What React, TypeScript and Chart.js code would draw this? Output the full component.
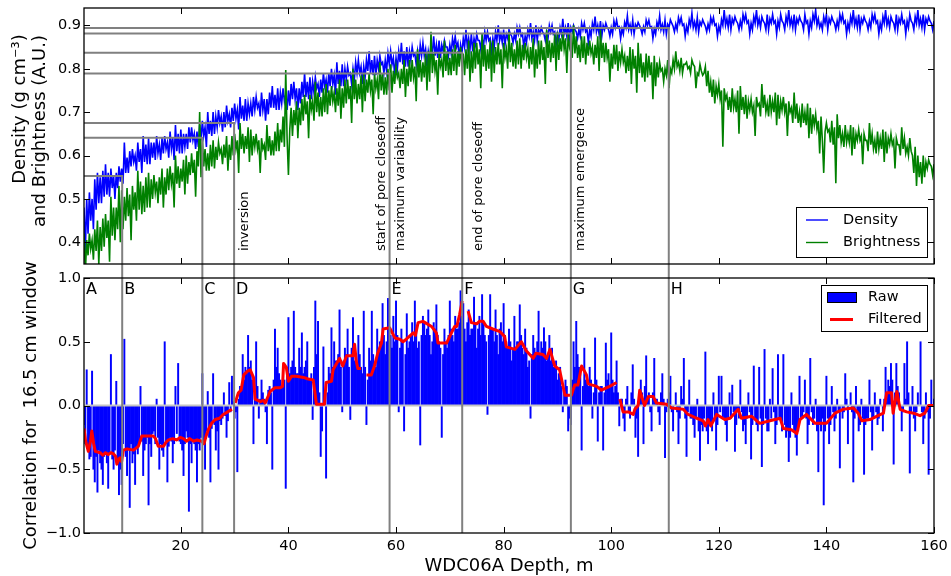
import React, { useEffect, useRef } from 'react';
import { Chart, registerables } from 'chart.js';

Chart.register(...registerables);

// ---------------- data ----------------
const DEPTH_START = 2;
const DEPTH_STEP = 0.25;
const X_MIN = 2;
const X_MAX = 160;
const X_TICKS = [20, 40, 60, 80, 100, 120, 140, 160];
const TOP_Y_TICKS = [0.4, 0.5, 0.6, 0.7, 0.8, 0.9];
const BOT_Y_TICKS = [-1, -0.5, 0, 0.5, 1];

// density, g cm^-3, every 0.25 m from 2 m
const DENSITY = [
  0.48, 0.38, 0.50, 0.42, 0.515, 0.45, 0.50, 0.43, 0.545, 0.475, 0.56, 0.49, 0.55, 0.49, 0.565, 0.505, 0.58, 0.51, 0.56, 0.505,
  0.57, 0.525, 0.555, 0.50, 0.56, 0.525, 0.575, 0.54, 0.57, 0.535, 0.63, 0.56, 0.595, 0.56, 0.61, 0.575, 0.615, 0.585, 0.60, 0.565,
  0.63, 0.585, 0.615, 0.56, 0.645, 0.585, 0.625, 0.58, 0.64, 0.58, 0.63, 0.595, 0.63, 0.59, 0.645, 0.605, 0.625, 0.59, 0.64, 0.605,
  0.645, 0.615, 0.63, 0.595, 0.655, 0.615, 0.64, 0.59, 0.67, 0.61, 0.65, 0.605, 0.66, 0.605, 0.65, 0.62, 0.65, 0.615, 0.665, 0.63,
  0.665, 0.635, 0.65, 0.615, 0.655, 0.62, 0.67, 0.635, 0.68, 0.645, 0.665, 0.62, 0.70, 0.65, 0.68, 0.645, 0.70, 0.65, 0.69, 0.665,
  0.705, 0.675, 0.69, 0.655, 0.70, 0.665, 0.715, 0.68, 0.695, 0.665, 0.71, 0.68, 0.72, 0.685, 0.705, 0.66, 0.735, 0.685, 0.715, 0.68,
  0.73, 0.68, 0.72, 0.695, 0.72, 0.69, 0.735, 0.705, 0.735, 0.71, 0.72, 0.69, 0.745, 0.705, 0.73, 0.68, 0.73, 0.695, 0.745, 0.71,
  0.76, 0.71, 0.74, 0.705, 0.755, 0.705, 0.745, 0.72, 0.755, 0.725, 0.74, 0.705, 0.75, 0.715, 0.765, 0.73, 0.77, 0.73, 0.755, 0.705,
  0.755, 0.72, 0.77, 0.735, 0.79, 0.735, 0.77, 0.73, 0.78, 0.73, 0.77, 0.745, 0.78, 0.755, 0.765, 0.735, 0.775, 0.745, 0.79, 0.76,
  0.775, 0.745, 0.79, 0.76, 0.80, 0.765, 0.785, 0.74, 0.815, 0.765, 0.795, 0.76, 0.81, 0.76, 0.80, 0.775, 0.805, 0.785, 0.79, 0.765,
  0.80, 0.775, 0.815, 0.79, 0.82, 0.79, 0.805, 0.765, 0.805, 0.78, 0.82, 0.795, 0.84, 0.79, 0.82, 0.785, 0.83, 0.785, 0.82, 0.80,
  0.83, 0.81, 0.815, 0.79, 0.82, 0.795, 0.835, 0.81, 0.84, 0.81, 0.825, 0.785, 0.825, 0.80, 0.84, 0.815, 0.86, 0.81, 0.84, 0.805,
  0.85, 0.805, 0.84, 0.82, 0.85, 0.83, 0.835, 0.81, 0.84, 0.815, 0.855, 0.83, 0.86, 0.83, 0.845, 0.805, 0.84, 0.82, 0.855, 0.835,
  0.875, 0.83, 0.855, 0.825, 0.865, 0.825, 0.855, 0.84, 0.865, 0.85, 0.85, 0.83, 0.855, 0.835, 0.87, 0.85, 0.875, 0.85, 0.86, 0.825,
  0.855, 0.835, 0.87, 0.85, 0.89, 0.85, 0.87, 0.845, 0.88, 0.84, 0.87, 0.855, 0.88, 0.865, 0.865, 0.845, 0.87, 0.85, 0.885, 0.865,
  0.885, 0.865, 0.87, 0.84, 0.87, 0.85, 0.885, 0.865, 0.90, 0.865, 0.88, 0.86, 0.89, 0.855, 0.88, 0.87, 0.89, 0.88, 0.875, 0.86,
  0.88, 0.865, 0.895, 0.88, 0.895, 0.875, 0.88, 0.85, 0.875, 0.86, 0.89, 0.875, 0.905, 0.87, 0.885, 0.865, 0.90, 0.865, 0.89, 0.88,
  0.895, 0.885, 0.88, 0.865, 0.885, 0.87, 0.90, 0.885, 0.90, 0.88, 0.885, 0.855, 0.88, 0.865, 0.895, 0.88, 0.915, 0.88, 0.895, 0.875,
  0.905, 0.87, 0.895, 0.885, 0.90, 0.89, 0.885, 0.87, 0.89, 0.875, 0.905, 0.89, 0.905, 0.885, 0.89, 0.86, 0.89, 0.875, 0.905, 0.89,
  0.92, 0.885, 0.90, 0.88, 0.91, 0.875, 0.90, 0.89, 0.905, 0.895, 0.89, 0.875, 0.895, 0.88, 0.91, 0.895, 0.912, 0.895, 0.897, 0.87,
  0.892, 0.88, 0.907, 0.895, 0.922, 0.89, 0.902, 0.885, 0.912, 0.88, 0.902, 0.895, 0.907, 0.90, 0.892, 0.88, 0.897, 0.885, 0.912, 0.90,
  0.912, 0.895, 0.897, 0.87, 0.892, 0.88, 0.907, 0.895, 0.922, 0.89, 0.902, 0.885, 0.912, 0.88, 0.902, 0.895, 0.913, 0.905, 0.898, 0.885,
  0.903, 0.89, 0.918, 0.905, 0.918, 0.90, 0.903, 0.875, 0.898, 0.885, 0.913, 0.90, 0.928, 0.895, 0.908, 0.89, 0.918, 0.885, 0.908, 0.90,
  0.913, 0.905, 0.898, 0.885, 0.903, 0.89, 0.918, 0.905, 0.918, 0.90, 0.903, 0.875, 0.898, 0.885, 0.913, 0.90, 0.935, 0.90, 0.915, 0.895,
  0.925, 0.89, 0.915, 0.905, 0.92, 0.91, 0.905, 0.89, 0.91, 0.895, 0.925, 0.91, 0.925, 0.905, 0.91, 0.88, 0.905, 0.89, 0.92, 0.905,
  0.935, 0.90, 0.915, 0.895, 0.92, 0.91, 0.905, 0.89, 0.925, 0.89, 0.915, 0.905, 0.925, 0.905, 0.91, 0.88, 0.91, 0.895, 0.925, 0.91,
  0.905, 0.89, 0.92, 0.905, 0.935, 0.90, 0.915, 0.895, 0.925, 0.89, 0.915, 0.905, 0.92, 0.91, 0.905, 0.89, 0.925, 0.905, 0.91, 0.88,
  0.91, 0.895, 0.925, 0.91, 0.935, 0.90, 0.915, 0.895, 0.905, 0.89, 0.92, 0.905, 0.925, 0.89, 0.915, 0.905, 0.92, 0.91, 0.905, 0.89,
  0.91, 0.895, 0.925, 0.91, 0.925, 0.905, 0.91, 0.88, 0.905, 0.89, 0.92, 0.905, 0.935, 0.90, 0.915, 0.895, 0.925, 0.89, 0.915, 0.905,
  0.92, 0.91, 0.905, 0.89, 0.91, 0.895, 0.925, 0.91, 0.925, 0.905, 0.91, 0.88, 0.905, 0.89, 0.92, 0.905, 0.935, 0.90, 0.915, 0.895,
  0.92, 0.91, 0.905, 0.89, 0.925, 0.89, 0.915, 0.905, 0.925, 0.905, 0.91, 0.88, 0.91, 0.895, 0.925, 0.91, 0.905, 0.89, 0.92, 0.905,
  0.935, 0.90, 0.915, 0.895, 0.925, 0.89, 0.915, 0.905, 0.92, 0.91, 0.905, 0.89, 0.91,
];

// brightness, arbitrary units, every 0.25 m from 2 m
const BRIGHTNESS = [
  0.42, 0.33, 0.405, 0.37, 0.42, 0.385, 0.405, 0.36, 0.43, 0.38, 0.45, 0.35, 0.435, 0.38, 0.455, 0.39, 0.465, 0.41, 0.45, 0.355,
  0.505, 0.415, 0.48, 0.405, 0.48, 0.43, 0.53, 0.40, 0.52, 0.43, 0.505, 0.45, 0.525, 0.46, 0.51, 0.405, 0.53, 0.475, 0.515, 0.45,
  0.565, 0.475, 0.54, 0.465, 0.53, 0.47, 0.55, 0.48, 0.56, 0.48, 0.545, 0.50, 0.555, 0.515, 0.54, 0.49, 0.55, 0.51, 0.57, 0.48,
  0.55, 0.51, 0.57, 0.52, 0.575, 0.535, 0.56, 0.48, 0.60, 0.535, 0.575, 0.525, 0.57, 0.54, 0.59, 0.51, 0.60, 0.535, 0.585, 0.555,
  0.605, 0.56, 0.59, 0.505, 0.61, 0.575, 0.70, 0.55, 0.64, 0.575, 0.615, 0.565, 0.605, 0.565, 0.625, 0.575, 0.635, 0.57, 0.62, 0.59,
  0.63, 0.605, 0.615, 0.58, 0.625, 0.595, 0.645, 0.565, 0.625, 0.59, 0.645, 0.60, 0.65, 0.615, 0.635, 0.56, 0.675, 0.615, 0.65, 0.605,
  0.645, 0.615, 0.665, 0.585, 0.66, 0.60, 0.645, 0.62, 0.65, 0.615, 0.635, 0.56, 0.64, 0.615, 0.625, 0.59, 0.67, 0.61, 0.645, 0.60,
  0.635, 0.60, 0.655, 0.61, 0.675, 0.61, 0.66, 0.63, 0.69, 0.62, 0.797, 0.64, 0.555, 0.66, 0.71, 0.645, 0.705, 0.67, 0.725, 0.64,
  0.71, 0.67, 0.73, 0.68, 0.74, 0.695, 0.725, 0.64, 0.74, 0.705, 0.725, 0.68, 0.77, 0.70, 0.745, 0.69, 0.735, 0.69, 0.755, 0.70,
  0.765, 0.695, 0.75, 0.715, 0.76, 0.725, 0.745, 0.70, 0.755, 0.715, 0.775, 0.685, 0.755, 0.71, 0.775, 0.72, 0.775, 0.73, 0.76, 0.675,
  0.80, 0.73, 0.775, 0.72, 0.765, 0.73, 0.785, 0.70, 0.79, 0.725, 0.775, 0.745, 0.79, 0.75, 0.775, 0.695, 0.79, 0.755, 0.775, 0.73,
  0.815, 0.75, 0.79, 0.74, 0.78, 0.74, 0.80, 0.75, 0.81, 0.745, 0.795, 0.765, 0.805, 0.78, 0.79, 0.755, 0.80, 0.765, 0.82, 0.735,
  0.80, 0.76, 0.82, 0.77, 0.82, 0.78, 0.805, 0.725, 0.845, 0.78, 0.82, 0.77, 0.815, 0.78, 0.835, 0.75, 0.84, 0.77, 0.885, 0.79,
  0.835, 0.795, 0.82, 0.74, 0.835, 0.805, 0.82, 0.78, 0.865, 0.795, 0.84, 0.785, 0.825, 0.785, 0.845, 0.795, 0.855, 0.785, 0.84, 0.805,
  0.85, 0.81, 0.835, 0.785, 0.845, 0.80, 0.865, 0.77, 0.84, 0.79, 0.86, 0.80, 0.86, 0.81, 0.845, 0.755, 0.88, 0.805, 0.855, 0.795,
  0.845, 0.80, 0.865, 0.77, 0.865, 0.79, 0.85, 0.81, 0.86, 0.81, 0.845, 0.755, 0.86, 0.825, 0.845, 0.80, 0.885, 0.815, 0.86, 0.805,
  0.845, 0.80, 0.865, 0.81, 0.87, 0.80, 0.855, 0.82, 0.86, 0.825, 0.845, 0.80, 0.85, 0.81, 0.87, 0.78, 0.845, 0.80, 0.865, 0.81,
  0.865, 0.82, 0.85, 0.765, 0.89, 0.825, 0.865, 0.815, 0.86, 0.825, 0.88, 0.795, 0.885, 0.82, 0.87, 0.84, 0.885, 0.845, 0.87, 0.79,
  0.88, 0.85, 0.865, 0.825, 0.90, 0.835, 0.875, 0.825, 0.855, 0.815, 0.875, 0.825, 0.875, 0.81, 0.86, 0.83, 0.865, 0.835, 0.85, 0.81,
  0.855, 0.825, 0.875, 0.795, 0.89, 0.825, 0.86, 0.815, 0.86, 0.825, 0.845, 0.77, 0.835, 0.80, 0.855, 0.81, 0.855, 0.795, 0.84, 0.815,
  0.845, 0.815, 0.83, 0.79, 0.83, 0.795, 0.85, 0.765, 0.845, 0.80, 0.83, 0.745, 0.86, 0.79, 0.835, 0.78, 0.815, 0.77, 0.835, 0.78,
  0.83, 0.785, 0.815, 0.73, 0.83, 0.76, 0.815, 0.78, 0.815, 0.795, 0.80, 0.77, 0.80, 0.785, 0.82, 0.755, 0.80, 0.79, 0.82, 0.80,
  0.84, 0.805, 0.815, 0.795, 0.825, 0.79, 0.81, 0.81, 0.815, 0.80, 0.805, 0.79, 0.82, 0.81, 0.805, 0.755, 0.79, 0.785, 0.81, 0.795,
  0.785, 0.79, 0.805, 0.76, 0.795, 0.745, 0.77, 0.735, 0.775, 0.72, 0.76, 0.74, 0.765, 0.73, 0.75, 0.62, 0.755, 0.73, 0.74, 0.705,
  0.735, 0.70, 0.755, 0.71, 0.73, 0.70, 0.75, 0.65, 0.76, 0.705, 0.735, 0.695, 0.74, 0.685, 0.725, 0.705, 0.73, 0.70, 0.715, 0.645,
  0.735, 0.715, 0.72, 0.69, 0.765, 0.71, 0.74, 0.70, 0.72, 0.69, 0.74, 0.70, 0.725, 0.70, 0.745, 0.67, 0.74, 0.685, 0.725, 0.705,
  0.735, 0.70, 0.72, 0.645, 0.725, 0.70, 0.71, 0.675, 0.745, 0.685, 0.72, 0.675, 0.70, 0.665, 0.72, 0.675, 0.70, 0.67, 0.72, 0.64,
  0.71, 0.65, 0.695, 0.67, 0.695, 0.66, 0.68, 0.605, 0.69, 0.635, 0.56, 0.655, 0.675, 0.655, 0.66, 0.63, 0.68, 0.625, 0.665, 0.536,
  0.695, 0.64, 0.67, 0.63, 0.65, 0.62, 0.67, 0.63, 0.65, 0.63, 0.67, 0.60, 0.665, 0.615, 0.65, 0.635, 0.66, 0.635, 0.645, 0.58,
  0.65, 0.635, 0.635, 0.61, 0.675, 0.625, 0.65, 0.615, 0.635, 0.605, 0.655, 0.615, 0.64, 0.615, 0.66, 0.585, 0.655, 0.605, 0.64, 0.625,
  0.65, 0.625, 0.635, 0.57, 0.64, 0.625, 0.625, 0.60, 0.665, 0.615, 0.64, 0.605, 0.62, 0.60, 0.64, 0.61, 0.60, 0.56, 0.62, 0.53,
  0.60, 0.55, 0.585, 0.535, 0.60, 0.55, 0.585, 0.57, 0.59, 0.58, 0.575, 0.555, 0.58,
];

// raw correlation, every 0.25 m from 2 m
const RAW = [
  -0.15, -0.3, 0.28, -0.35, -0.42, -0.4, 0.27, -0.5, -0.6, -0.4, -0.68, -0.35, -0.45, -0.5, -0.62, -0.4, -0.38, -0.45, -0.65, -0.38,
  0.4, -0.42, -0.5, -0.35, 0.19, -0.45, -0.7, -0.5, -0.62, -0.3, 0.52, -0.4, -0.55, -0.35, -0.8, -0.3, -0.45, -0.38, -0.62, -0.32,
  -0.38, -0.3, 0.15, -0.28, -0.55, -0.35, -0.3, -0.25, -0.78, -0.3, -0.4, -0.22, -0.2, -0.3, 0.05, -0.25, -0.5, -0.3, -0.35, -0.4,
  0.5, -0.3, -0.6, -0.32, -0.25, -0.28, -0.45, -0.3, 0.15, -0.22, 0.33, -0.28, -0.3, -0.35, -0.55, -0.3, -0.2, -0.25, -0.83, -0.3,
  -0.45, -0.28, -0.3, -0.35, -0.6, -0.3, -0.35, -0.25, 0.25, -0.3, -0.5, -0.2, 0.11, -0.25, -0.6, -0.18, 0.25, -0.15, -0.35, -0.2,
  -0.5, -0.12, -0.15, -0.1, 0.1, -0.08, -0.25, -0.12, 0.18, -0.05, 0.23, 0.03, -0.1, -0.05, -0.52, 0.05, 0.15, 0.15, 0.4, 0.2,
  0.3, 0.25, 0.55, 0.3, 0.35, 0.2, -0.3, 0.1, 0.5, 0.15, -0.1, 0.05, 0.2, 0.1, 0.05, -0.05, -0.3, 0.12, 0.15, 0.1,
  -0.5, 0.2, 0.6, 0.3, 0.45, 0.25, 0.2, 0.15, 0.3, 0.2, -0.65, 0.3, 0.69, 0.25, 0.3, 0.35, 0.74, 0.3, 0.25, 0.25,
  0.45, 0.3, 0.57, 0.25, 0.3, 0.35, 0.5, 0.2, 0.2, 0.25, -0.11, 0.3, 0.82, 0.4, 0.66, 0.1, -0.4, -0.2, 0.46, 0.05,
  -0.57, 0.1, 0.3, 0.25, 0.61, 0.3, 0.5, 0.35, 0.35, 0.4, 0.75, 0.3, -0.05, 0.35, 0.45, 0.4, 0.6, 0.3, -0.11, 0.45,
  0.69, 0.35, 0.4, 0.3, 0.55, 0.4, 0.3, 0.25, 0.74, 0.3, -0.15, 0.2, 0.45, 0.35, 0.74, 0.4, 0.3, 0.3, 0.6, 0.45,
  0.5, 0.5, 0.8, 0.55, 0.4, 0.5, 0.84, 0.6, 0.55, 0.45, 0.7, 0.5, 0.82, 0.55, -0.05, 0.45, 0.6, 0.5, -0.2, 0.4,
  0.72, 0.45, 0.5, 0.55, 0.65, 0.5, 0.82, 0.6, 0.45, 0.5, -0.31, 0.55, 0.7, 0.65, 0.55, 0.6, 0.75, 0.55, 0.4, 0.5,
  0.65, 0.6, 0.79, 0.55, 0.5, 0.45, -0.25, 0.4, 0.6, 0.5, 0.45, 0.55, 0.82, 0.6, 0.55, 0.5, 0.7, 0.6, 0.6, 0.65,
  0.9, 0.7, 0.8, 0.6, 0.5, 0.65, 0.75, 0.55, 0.6, 0.6, 0.85, 0.65, 0.45, 0.6, 0.7, 0.55, 0.87, 0.65, 0.55, 0.5,
  -0.07, 0.55, 0.87, 0.6, 0.6, 0.5, 0.75, 0.55, 0.4, 0.6, 0.65, 0.5, 0.8, 0.55, 0.5, 0.45, 0.6, 0.5, 0.35, 0.45,
  0.7, 0.45, 0.5, 0.5, 0.79, 0.55, 0.45, 0.4, 0.6, 0.45, 0.3, 0.35, -0.1, 0.4, 0.55, 0.45, 0.4, 0.5, 0.74, 0.4,
  0.5, 0.45, 0.61, 0.5, 0.35, 0.4, 0.55, 0.35, 0.45, 0.3, 0.3, 0.35, 0.2, 0.25, 0.3, 0.15, -0.05, 0.1, 0.2, 0.15,
  -0.2, -0.1, -0.15, 0.2, 0.5, 0.3, 0.66, 0.4, 0.3, 0.25, -0.35, 0.15, 0.45, 0.2, 0.2, 0.15, 0.3, 0.2, -0.1, 0.1,
  0.53, 0.2, -0.28, 0.1, 0.15, 0.15, -0.35, 0.1, 0.49, 0.2, 0.25, 0.15, 0.57, 0.2, 0.1, 0.15, 0.35, 0.1, -0.16, 0.05,
  0.05, -0.1, -0.2, 0.05, 0.15, -0.05, -0.1, 0.1, 0.32, 0.05, -0.25, -0.1, -0.4, 0.05, 0.2, 0.1, -0.3, 0.15, 0.39, 0.05,
  0.1, -0.05, -0.2, 0.1, 0.37, 0.05, 0.05, -0.05, -0.15, 0.1, 0.25, 0.05, -0.41, -0.05, 0.05, 0.1, 0.23, -0.05, -0.2, 0.0,
  0.1, -0.05, -0.3, -0.1, 0.15, 0.05, 0.37, -0.1, -0.4, -0.05, 0.2, -0.1, -0.1, -0.15, -0.25, -0.1, 0.05, -0.2, -0.43, -0.15,
  -0.2, -0.1, 0.42, -0.2, -0.3, -0.15, -0.15, -0.2, 0.1, -0.1, -0.35, -0.15, 0.23, -0.05, 0.23, -0.1, -0.1, -0.15, -0.28, -0.1,
  0.1, -0.1, 0.16, -0.05, -0.36, -0.15, -0.05, -0.1, 0.2, -0.05, -0.2, -0.15, -0.3, -0.1, 0.1, -0.05, -0.42, -0.15, 0.31, -0.1,
  -0.15, -0.2, 0.3, -0.1, -0.48, -0.15, 0.44, -0.1, -0.2, -0.2, 0.05, -0.1, 0.29, -0.05, -0.3, -0.15, 0.4, -0.1, -0.1, -0.2,
  0.4, -0.15, -0.25, -0.2, -0.44, -0.25, 0.1, -0.15, -0.2, -0.25, -0.39, -0.2, 0.23, -0.1, -0.1, -0.05, 0.2, -0.1, -0.3, -0.15,
  0.37, -0.05, -0.15, -0.1, 0.05, -0.2, -0.52, -0.15, -0.2, -0.1, -0.78, -0.2, 0.23, -0.1, -0.3, -0.15, 0.15, -0.05, -0.2, -0.1,
  0.05, -0.05, -0.49, 0.0, -0.1, -0.05, 0.25, 0.05, -0.3, 0.0, 0.1, -0.05, -0.6, -0.1, 0.15, -0.05, -0.2, -0.15, 0.05, -0.1,
  -0.54, -0.15, -0.1, -0.1, 0.2, -0.05, -0.35, -0.1, 0.1, -0.05, -0.15, -0.1, 0.05, 0.0, -0.2, 0.05, 0.3, 0.1, 0.2, 0.15,
  0.33, 0.2, -0.46, 0.1, 0.33, 0.15, 0.1, 0.0, -0.2, -0.05, 0.33, 0.05, 0.5, 0.1, -0.53, -0.05, 0.15, -0.1, -0.2, -0.05,
  0.1, 0.0, 0.5, -0.05, -0.3, -0.1, 0.1, -0.05, -0.54, -0.1, 0.2, 0.0, 0.05,
];

const FILTER_DEPTH = [
  2.0, 2.3, 2.8, 3.2, 3.45, 3.8, 4.1, 5.0, 5.5, 6.0,
  6.5, 7.0, 7.5, 7.9, 8.1, 8.5, 8.7, 9.0, 9.3, 10.0,
  11.2, 11.8, 12.1, 12.75, 14.9, 15.3, 15.8, 16.8, 17.2, 17.7,
  18.5, 19.2, 19.9, 20.5, 21.1, 21.6, 22.4, 23.0, 23.9, 24.3,
  24.7, 25.1, 25.7, 26.4, 27.2, 27.9, 28.7, 29.5, 29.8, 30.1,
  30.7, 31.2, 31.7, 32.4, 32.9, 33.5, 33.8, 34.8, 35.3, 35.7,
  36.6, 37.5, 38.5, 38.9, 39.1, 39.6, 40.0, 40.6, 41.5, 42.8,
  43.5, 44.6, 44.9, 45.2, 46.7, 47.0, 48.0, 48.3, 49.5, 50.1,
  50.8, 52.0, 52.3, 52.6, 52.9, 53.5, 53.8, 54.5, 55.4, 56.0,
  56.6, 57.3, 57.6, 58.8, 59.8, 60.7, 61.3, 61.9, 63.2, 63.6,
  64.1, 65.0, 65.8, 66.6, 67.5, 67.8, 69.4, 70.3, 70.9, 71.3,
  71.8, 72.3, 72.8, 73.4, 74.0, 75.0, 75.5, 76.2, 76.8, 78.0,
  79.3, 80.2, 80.5, 82.1, 83.3, 84.2, 85.5, 86.0, 87.3, 88.0,
  88.6, 89.5, 90.4, 91.4, 92.6, 93.2, 93.8, 94.5, 95.4, 95.7,
  97.3, 98.2, 99.7, 101.0, 101.3, 101.6, 102.2, 103.2, 104.1, 104.4,
  105.0, 105.3, 106.2, 106.9, 107.8, 108.4, 110.3, 111.2, 113.4, 114.3,
  115.9, 117.1, 117.5, 118.0, 118.5, 119.0, 119.6, 121.1, 122.1, 123.6,
  124.2, 126.1, 127.6, 129.5, 131.4, 132.0, 133.5, 134.5, 135.1, 136.3,
  137.9, 140.0, 141.6, 143.1, 145.0, 145.9, 146.6, 148.1, 149.6, 150.6,
  151.2, 152.1, 152.4, 153.1, 153.7, 154.9, 156.2, 157.4, 158.3, 159.0,
  159.9,
];

const FILTER_VALUE = [
  -0.18, -0.28, -0.36, -0.28, -0.2, -0.3, -0.36, -0.37, -0.39, -0.37,
  -0.385, -0.37, -0.38, -0.4, -0.46, -0.42, -0.41, -0.44, -0.35, -0.34,
  -0.35, -0.33, -0.32, -0.24, -0.24, -0.26, -0.32, -0.32, -0.29, -0.27,
  -0.26, -0.27, -0.25, -0.26, -0.28, -0.26, -0.28, -0.27, -0.28, -0.3,
  -0.24, -0.19, -0.14, -0.11, -0.1, -0.07, -0.05, -0.03, null, 0.02,
  0.1, 0.12, 0.24, 0.27, 0.28, 0.22, 0.05, 0.03, 0.04, 0.02,
  0.11, 0.14, 0.14, 0.15, 0.33, 0.3, 0.19, 0.23, 0.23, 0.22,
  0.21, 0.2, 0.11, 0.01, 0.01, 0.18, 0.19, 0.28, 0.37, 0.31,
  0.39, 0.39, 0.48, 0.35, 0.29, 0.29, null, 0.24, 0.24, 0.31,
  0.41, 0.49, 0.6, 0.61, 0.53, 0.52, 0.5, 0.52, 0.57, 0.55,
  0.65, 0.66, 0.64, 0.62, 0.57, 0.49, 0.49, 0.57, 0.62, 0.62,
  0.71, 0.82, null, 0.74, 0.65, 0.64, 0.66, 0.66, 0.62, 0.6,
  0.58, 0.54, 0.46, 0.44, 0.5, 0.43, 0.37, 0.41, 0.4, 0.37,
  0.44, 0.31, 0.28, 0.08, 0.08, 0.16, 0.16, 0.31, 0.24, 0.17,
  0.15, 0.12, 0.15, 0.18, null, 0.05, -0.05, -0.05, -0.07, -0.03,
  0.0, 0.12, 0.0, 0.07, 0.07, 0.02, 0.01, -0.02, -0.03, -0.07,
  -0.1, -0.12, -0.16, -0.11, -0.16, -0.12, -0.07, -0.11, -0.1, -0.03,
  -0.1, -0.085, -0.14, -0.12, -0.1, -0.18, -0.19, -0.22, -0.11, -0.07,
  -0.14, -0.14, -0.06, -0.03, -0.02, -0.06, -0.12, -0.11, -0.08, -0.06,
  0.1, 0.1, -0.06, 0.11, -0.03, -0.05, -0.06, -0.08, -0.06, 0.0,
  0.0,
];

// transition markers
const MARK_DEPTH = [9.1, 24.0, 29.9, 58.8, 72.3, 92.5, 110.7];
const MARK_LEVEL = [0.553, 0.641, 0.675, 0.789, 0.837, 0.881, 0.894];
const MARK_LETTER = ['B', 'C', 'D', 'E', 'F', 'G', 'H'];
const FIRST_LETTER = 'A';
const NOTE_TEXT = ['inversion', 'start of pore closeoff', 'maximum variability', 'end of pore closeoff', 'maximum emergence'];
const NOTE_MARK = [2, 3, 3, 4, 5];

// ---------------- style ----------------
const W = 951;
const H = 576;
const FONT = '"DejaVu Sans", "Liberation Sans", sans-serif';
const TOP_AREA = { top: 8, bottom: 264 };
const BOT_AREA = { top: 278, bottom: 533 };
const LEFT = 84;
const RIGHT = 934;
const NOTE_OFFSET = [14, -4.5, 14, 19.5, 13];
const GRAY = '#808080';

const seriesPoints = (vals: number[]) => vals.map((v, i) => ({ x: DEPTH_START + i * DEPTH_STEP, y: v }));

function vText(ctx: CanvasRenderingContext2D, text: string, x: number, y: number, align: CanvasTextAlign) {
  ctx.save();
  ctx.translate(x, y);
  ctx.rotate(-Math.PI / 2);
  ctx.textAlign = align;
  ctx.textBaseline = 'alphabetic';
  ctx.fillText(text, 0, 0);
  ctx.restore();
}

const fmtY = (v: number) => (v < 0 ? '\u2212' : '') + Math.abs(v).toFixed(1);

function drawBox(chart: any, yTicks: number[], showX: boolean) {
  const { ctx, chartArea: a } = chart;
  const xs = chart.scales.x;
  const ys = chart.scales.y;
  ctx.save();
  ctx.strokeStyle = '#000';
  ctx.lineWidth = 1;
  ctx.beginPath();
  for (const v of X_TICKS) {
    const p = Math.round(xs.getPixelForValue(v)) + 0.5;
    ctx.moveTo(p, a.bottom);
    ctx.lineTo(p, a.bottom - 6);
    ctx.moveTo(p, a.top);
    ctx.lineTo(p, a.top + 6);
  }
  for (const v of yTicks) {
    const p = Math.round(ys.getPixelForValue(v)) + 0.5;
    ctx.moveTo(a.left, p);
    ctx.lineTo(a.left + 6, p);
    ctx.moveTo(a.right, p);
    ctx.lineTo(a.right - 6, p);
  }
  ctx.stroke();
  ctx.lineWidth = 1.3;
  ctx.strokeRect(a.left, a.top, a.right - a.left, a.bottom - a.top);
  ctx.fillStyle = '#000';
  ctx.font = `14.5px ${FONT}`;
  ctx.textAlign = 'right';
  ctx.textBaseline = 'middle';
  for (const v of yTicks) ctx.fillText(fmtY(v), a.left - 3, ys.getPixelForValue(v));
  if (showX) {
    ctx.textAlign = 'center';
    for (const v of X_TICKS) ctx.fillText(String(v), xs.getPixelForValue(v), a.bottom + 13);
  }
  ctx.restore();
}

const topDecor = {
  id: 'topDecor',
  afterDatasetsDraw(chart: any) {
    const { ctx, chartArea: a } = chart;
    const xs = chart.scales.x;
    const ys = chart.scales.y;
    ctx.save();
    ctx.strokeStyle = GRAY;
    ctx.lineWidth = 2;
    MARK_DEPTH.forEach((d, i) => {
      const px = xs.getPixelForValue(d);
      const py = ys.getPixelForValue(MARK_LEVEL[i]);
      ctx.beginPath();
      ctx.moveTo(a.left, py);
      ctx.lineTo(px, py);
      ctx.lineTo(px, BOT_AREA.top);
      ctx.stroke();
    });
    ctx.fillStyle = '#000';
    ctx.font = `13px ${FONT}`;
    NOTE_TEXT.forEach((t, i) => {
      const px = xs.getPixelForValue(MARK_DEPTH[NOTE_MARK[i]]) + NOTE_OFFSET[i];
      vText(ctx, t, px, 251, 'left');
    });
    // legend
    const lx = 796, ly = 207, lw = 131, lh = 50;
    ctx.fillStyle = '#fff';
    ctx.fillRect(lx, ly, lw, lh);
    ctx.strokeStyle = '#000';
    ctx.lineWidth = 1;
    ctx.strokeRect(lx + 0.5, ly + 0.5, lw, lh);
    const items = [
      { label: 'Density', color: '#0000ff', y: 220 },
      { label: 'Brightness', color: '#008000', y: 242.5 },
    ];
    ctx.font = `14.5px ${FONT}`;
    ctx.textAlign = 'left';
    ctx.textBaseline = 'middle';
    for (const it of items) {
      ctx.strokeStyle = it.color;
      ctx.lineWidth = 1.4;
      ctx.beginPath();
      ctx.moveTo(806, it.y);
      ctx.lineTo(828, it.y);
      ctx.stroke();
      ctx.fillStyle = '#000';
      ctx.fillText(it.label, 843, it.y);
    }
    ctx.font = `18px ${FONT}`;
    ctx.fillStyle = '#000';
    vText(ctx, 'Density (g cm\u207B\u00B3)', 25, 109, 'center');
    vText(ctx, 'and Brightness (A.U.)', 45, 131, 'center');
    ctx.restore();
    drawBox(chart, TOP_Y_TICKS, false);
  },
};

const botDecor = {
  id: 'botDecor',
  afterDatasetsDraw(chart: any) {
    const { ctx, chartArea: a } = chart;
    const xs = chart.scales.x;
    ctx.save();
    ctx.strokeStyle = GRAY;
    ctx.lineWidth = 2;
    MARK_DEPTH.forEach((d) => {
      const px = xs.getPixelForValue(d);
      ctx.beginPath();
      ctx.moveTo(px, a.top);
      ctx.lineTo(px, a.bottom);
      ctx.stroke();
    });
    ctx.fillStyle = '#000';
    ctx.font = `16px ${FONT}`;
    ctx.textAlign = 'left';
    ctx.textBaseline = 'alphabetic';
    ctx.fillText(FIRST_LETTER, xs.getPixelForValue(X_MIN) + 2, 294);
    MARK_DEPTH.forEach((d, i) => {
      ctx.fillText(MARK_LETTER[i], xs.getPixelForValue(d) + 2, 294);
    });
    // legend
    const lx = 821, ly = 285, lw = 106, lh = 46;
    ctx.fillStyle = '#fff';
    ctx.fillRect(lx, ly, lw, lh);
    ctx.strokeStyle = '#000';
    ctx.lineWidth = 1;
    ctx.strokeRect(lx + 0.5, ly + 0.5, lw, lh);
    ctx.fillStyle = '#0000ff';
    ctx.fillRect(827, 292, 30, 11);
    ctx.strokeRect(827.5, 292.5, 29, 10);
    ctx.strokeStyle = '#ff0000';
    ctx.lineWidth = 3;
    ctx.beginPath();
    ctx.moveTo(830, 319.5);
    ctx.lineTo(853, 319.5);
    ctx.stroke();
    ctx.fillStyle = '#000';
    ctx.font = `14.5px ${FONT}`;
    ctx.textBaseline = 'middle';
    ctx.fillText('Raw', 868, 297);
    ctx.fillText('Filtered', 868, 319);
    ctx.font = `18px ${FONT}`;
    vText(ctx, 'Correlation for  16.5 cm window', 36, 405.5, 'center');
    ctx.textAlign = 'center';
    ctx.textBaseline = 'alphabetic';
    ctx.fillText('WDC06A Depth, m', (a.left + a.right) / 2, 571);
    ctx.restore();
    drawBox(chart, BOT_Y_TICKS, true);
  },
};

export default function App() {
  const topRef = useRef<HTMLCanvasElement>(null);
  const botRef = useRef<HTMLCanvasElement>(null);

  useEffect(() => {
    const common = {
      animation: false as const,
      responsive: false,
      devicePixelRatio: 1,
      events: [] as any[],
      plugins: { legend: { display: false }, tooltip: { enabled: false } },
    };
    const top = new Chart(topRef.current as HTMLCanvasElement, {
      type: 'line',
      data: {
        datasets: [
          {
            label: 'Brightness',
            data: seriesPoints(BRIGHTNESS),
            borderColor: '#008000',
            borderWidth: 1.6,
            pointRadius: 0,
            tension: 0,
            order: 0,
            clip: 0,
          },
          {
            label: 'Density',
            data: seriesPoints(DENSITY),
            borderColor: '#0000ff',
            borderWidth: 1.6,
            pointRadius: 0,
            tension: 0,
            order: 1,
            clip: 0,
          },
        ],
      },
      options: {
        ...common,
        layout: { padding: { left: LEFT, right: W - RIGHT, top: TOP_AREA.top, bottom: H - TOP_AREA.bottom } },
        scales: {
          x: { type: 'linear', min: X_MIN, max: X_MAX, display: false },
          y: { type: 'linear', min: 0.35, max: 0.94, display: false },
        },
      },
      plugins: [topDecor],
    } as any);

    const filterPts = FILTER_DEPTH.map((d, i) => ({ x: d, y: FILTER_VALUE[i] }));
    const bot = new Chart(botRef.current as HTMLCanvasElement, {
      type: 'bar',
      data: {
        datasets: [
          {
            type: 'line',
            label: 'Filtered',
            data: filterPts,
            borderColor: '#ff0000',
            borderWidth: 3,
            borderJoinStyle: 'round',
            pointRadius: 0,
            tension: 0,
            spanGaps: false,
            order: 0,
            clip: 0,
          },
          {
            type: 'line',
            label: 'zero',
            data: [{ x: X_MIN, y: 0 }, { x: X_MAX, y: 0 }],
            borderColor: '#c4c4c4',
            borderWidth: 2,
            pointRadius: 0,
            order: 1,
          },
          {
            type: 'bar',
            label: 'Raw',
            data: seriesPoints(RAW),
            backgroundColor: '#0000ff',
            borderWidth: 0,
            barThickness: 1.3,
            order: 2,
          },
        ],
      },
      options: {
        ...common,
        layout: { padding: { left: LEFT, right: W - RIGHT, top: BOT_AREA.top, bottom: H - BOT_AREA.bottom } },
        scales: {
          x: { type: 'linear', min: X_MIN, max: X_MAX, display: false, offset: false, grid: { offset: false } },
          y: { type: 'linear', min: -1, max: 1, display: false },
        },
      },
      plugins: [botDecor],
    } as any);

    return () => {
      top.destroy();
      bot.destroy();
    };
  }, []);

  return (
    <div style={{ position: 'fixed', left: 0, top: 0, width: W, height: H, background: '#fff' }}>
      <canvas ref={topRef} width={W} height={H} style={{ position: 'absolute', left: 0, top: 0 }} />
      <canvas ref={botRef} width={W} height={H} style={{ position: 'absolute', left: 0, top: 0 }} />
    </div>
  );
}
